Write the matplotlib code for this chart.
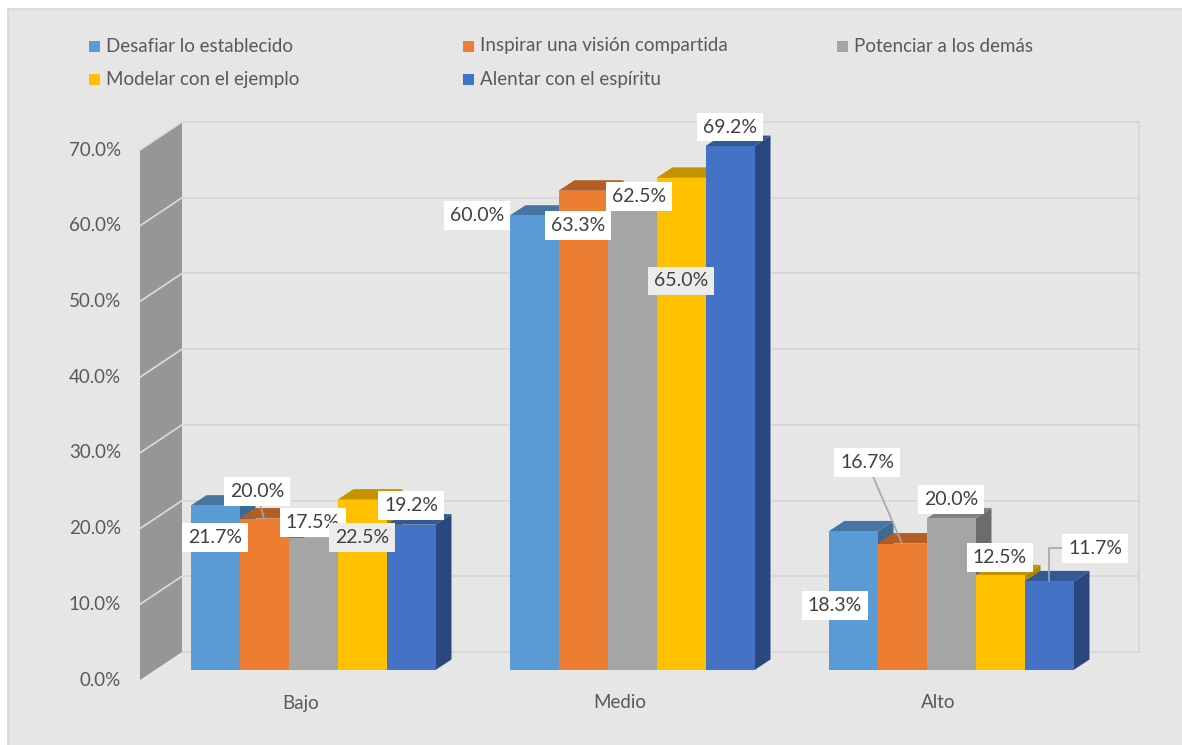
import matplotlib
matplotlib.use('Agg')
import matplotlib.pyplot as plt
from matplotlib.patches import Polygon, Rectangle

plt.rcParams['font.family'] = ['Lato', 'DejaVu Sans']

# data (percent)
categories = ['Bajo', 'Medio', 'Alto']
series = ['Desafiar lo establecido', 'Inspirar una visión compartida', 'Potenciar a los demás',
          'Modelar con el ejemplo', 'Alentar con el espíritu']
desafiar = [21.7, 60.0, 18.3]
inspirar = [20.0, 63.3, 16.7]
potenciar = [17.5, 62.5, 20.0]
modelar = [22.5, 65.0, 12.5]
alentar = [19.2, 69.2, 11.7]
values = [desafiar, inspirar, potenciar, modelar, alentar]
y_ticks = [0, 10, 20, 30, 40, 50, 60, 70]

# front, top, side colours
colors = [('#5B9BD5', '#4475a3', '#3d6a94'),
          ('#ED7D31', '#b45e24', '#a35420'),
          ('#A5A5A5', '#808080', '#6c6c6c'),
          ('#FFC000', '#c49300', '#b08500'),
          ('#4472C4', '#335896', '#2a4780')]

# manual label placement (pixel offsets from bar top centre), as in the original
label_off = {
    (0, 0): (0, -32), (1, 0): (-7, 27), (2, 0): (0, 15), (3, 0): (0, -38), (4, 0): (0, 19),
    (0, 1): (-57, 0), (1, 1): (-5, -35), (2, 1): (7, 0), (3, 1): (0, -103), (4, 1): (0, 19),
    (0, 2): (-18, -74), (1, 2): (-35, 81), (2, 2): (0, 19), (3, 2): (0, 18), (4, 2): (46, 33),
}
leaders = {(1, 0): 'arc3', (1, 2): 'arc3', (4, 2): 'angle,angleA=0,angleB=90,rad=0'}
gray_boxes = {(3, 0), (3, 1)}

W, H = 1182, 745
fig = plt.figure(figsize=(W / 100, H / 100), dpi=100, facecolor='white')
fig.patches.append(Rectangle((8 / W, -0.1), 1.2, 1.1 - 9 / H, transform=fig.transFigure,
                             fc='#e6e6e6', ec='#d6d6d6', lw=1.2, zorder=-5))

ax = fig.add_axes([153.5 / W, 75 / H, 957 / W, 530 / H])
ax.set_xlim(-0.5, 2.5)
ax.set_ylim(0, 70)
ax.axis('off')

kx = 3 / 957
ky = 70 / 530


def pt(x, y, dpx, dpy):
    return (x + dpx * kx, y + dpy * ky)


back = (28.5, 18)
front = (-13.5, -10)
grid_c = '#d6d6d6'
fs = 13.5

# back wall
for t in y_ticks:
    a = pt(-0.5, t, *back)
    b = pt(2.5, t, *back)
    ax.plot([a[0], b[0]], [a[1], b[1]], color=grid_c, lw=1.2, clip_on=False, zorder=1)
a = pt(2.5, 0, *back)
b = pt(2.5, 70, *back)
ax.plot([a[0], b[0]], [a[1], b[1]], color=grid_c, lw=1.2, clip_on=False, zorder=1)

# side wall
wall = [pt(-0.5, 0, *front), pt(-0.5, 70, *front), pt(-0.5, 70, *back), pt(-0.5, 0, *back)]
ax.add_patch(Polygon(wall, closed=True, fc='#969696', ec='none', clip_on=False, zorder=1))
for t in y_ticks[1:]:
    a = pt(-0.5, t, *front)
    b = pt(-0.5, t, *back)
    ax.plot([a[0], b[0]], [a[1], b[1]], color='#dcdcdc', lw=1.2, clip_on=False, zorder=1.5)

for t in y_ticks:
    ax.text(*pt(-0.5, t, front[0] - 19, front[1]), f'{t:.1f}%', ha='right', va='center',
            fontsize=fs, color='#595959')

for i, c in enumerate(categories):
    ax.text(*pt(i, 0, -12.5, -33), c, ha='center', va='center', fontsize=fs, color='#595959')

# bars
w = 49 / 319
dx, dy = 16, 10.5
for i in range(len(categories)):
    for j in range(len(series)):
        h = values[j][i]
        x0 = i - 2.5 * w + j * w
        x1 = x0 + w
        fc, tc, sc = colors[j]
        side = [(x1, 0), pt(x1, 0, dx, dy), pt(x1, h, dx, dy), (x1, h)]
        top = [(x0, h), (x1, h), pt(x1, h, dx, dy), pt(x0, h, dx, dy)]
        face = [(x0, 0), (x1, 0), (x1, h), (x0, h)]
        for poly, col in ((side, sc), (top, tc), (face, fc)):
            ax.add_patch(Polygon(poly, closed=True, fc=col, ec='none', clip_on=False, zorder=2))

# data labels
for i in range(len(categories)):
    for j in range(len(series)):
        h = values[j][i]
        xc = i - 2.5 * w + j * w + w / 2
        arrow = None
        if (j, i) in leaders:
            arrow = dict(arrowstyle='-', color='#a6a6a6', lw=1.2, shrinkA=0, shrinkB=0,
                         connectionstyle=leaders[(j, i)])
        ax.annotate(f'{h:.1f}%', xy=(xc, h), xytext=label_off[(j, i)], textcoords='offset pixels',
                    ha='center', va='center', fontsize=14, color='#404040', zorder=5,
                    annotation_clip=False,
                    bbox=dict(boxstyle='square,pad=0.3',
                              fc='#ececec' if (j, i) in gray_boxes else 'white', ec='none'),
                    arrowprops=arrow)

# legend
leg_x = [89, 463, 837]
leg_y = [46, 79]
for k, name in enumerate(series):
    r, col = divmod(k, 3)
    x = leg_x[col]
    y = leg_y[r]
    fig.patches.append(Rectangle((x / W, 1 - (y + 5.5) / H), 11 / W, 11 / H,
                                 transform=fig.transFigure, fc=colors[k][0], ec='none'))
    fig.text((x + 17) / W, 1 - y / H, name, ha='left', va='center', fontsize=fs, color='#595959')

fig.savefig('out.png', dpi=100, facecolor='white')
